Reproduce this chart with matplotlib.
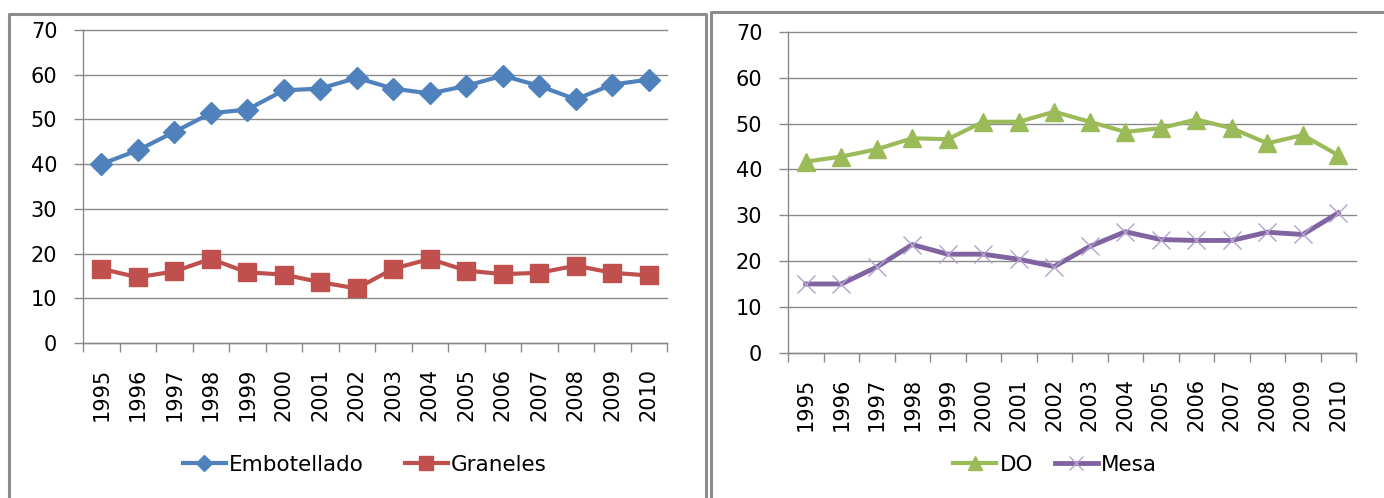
import matplotlib
matplotlib.use('Agg')
import matplotlib.pyplot as plt
from matplotlib.lines import Line2D
import numpy as np

plt.rcParams['font.family'] = ['DejaVu Sans']

years = ['1995', '1996', '1997', '1998', '1999', '2000', '2001', '2002',
         '2003', '2004', '2005', '2006', '2007', '2008', '2009', '2010']

embotellado = [40.0, 43.1, 47.2, 51.4, 52.2, 56.5, 56.9, 59.3,
               56.9, 55.8, 57.5, 59.8, 57.5, 54.5, 57.8, 58.9]
graneles = [16.6, 14.7, 16.0, 18.8, 15.8, 15.3, 13.6, 12.2,
            16.6, 18.8, 16.2, 15.4, 15.7, 17.3, 15.7, 15.1]

do_vals = [41.7, 42.8, 44.4, 46.8, 46.6, 50.4, 50.4, 52.6,
           50.4, 48.2, 49.0, 50.9, 49.0, 45.7, 47.5, 43.1]
mesa = [15.0, 15.0, 18.7, 23.6, 21.5, 21.5, 20.4, 18.8,
        23.2, 26.4, 24.7, 24.5, 24.5, 26.3, 25.8, 30.5]

W, H = 1384, 498
fig = plt.figure(figsize=(W / 100, H / 100), dpi=100)
fig.patch.set_facecolor('white')

grey = '#8a8a8a'


def setup_axis(ax):
    n = len(years)
    x = np.arange(n)
    ax.set_xlim(-0.5, n - 0.5)
    ax.set_ylim(0, 70)
    ax.set_yticks(range(0, 71, 10))
    ax.set_xticks(x)
    ax.set_xticklabels(years, rotation=90)
    ax.set_xticks(np.arange(-0.5, n, 1.0), minor=True)
    ax.tick_params(axis='x', which='major', length=0, pad=18, labelsize=15)
    ax.tick_params(axis='x', which='minor', length=6.5, width=1, color=grey)
    ax.tick_params(axis='y', length=6.5, width=1, color=grey, pad=12,
                   labelsize=15)
    ax.grid(axis='y', color=grey, lw=1.0, clip_on=False)
    ax.set_axisbelow(True)
    for s in ['top', 'right']:
        ax.spines[s].set_visible(False)
    for s in ['left', 'bottom']:
        ax.spines[s].set_color(grey)
        ax.spines[s].set_linewidth(1.0)
    return x


######## Left chart
ax1 = fig.add_axes([83 / W, 1 - 343 / H, (667 - 83) / W, (343 - 30) / H])
x = setup_axis(ax1)
ax1.plot(x, embotellado, color='#4F81BD', lw=3, marker='D', ms=11.5,
         label='Embotellado', clip_on=False)
ax1.plot(x, graneles, color='#C0504D', lw=3, marker='s', ms=13.5,
         label='Graneles', clip_on=False)
fig.legend(*ax1.get_legend_handles_labels(), loc='center',
           bbox_to_anchor=(365 / W, 1 - 465 / H), ncol=2, frameon=False,
           fontsize=15.5, handlelength=2.0, handletextpad=0.15,
           columnspacing=1.9, markerscale=0.75)

######## Right chart
ax2 = fig.add_axes([788 / W, 1 - 352.7 / H, (1356 - 788) / W, (352.7 - 32) / H])
x = setup_axis(ax2)
ax2.plot(x, do_vals, color='#9BBB59', lw=3, marker='^', ms=13,
         label='DO', clip_on=False)
ax2.plot(x, mesa, color='#8064A2', lw=3.5, marker='x', ms=13,
         mec='#b3a2cc', mew=1.0, label='Mesa', clip_on=False)
fig.legend(*ax2.get_legend_handles_labels(), loc='center',
           bbox_to_anchor=(1055 / W, 1 - 465 / H), ncol=2, frameon=False,
           fontsize=15.5, handlelength=2.0, handletextpad=0.15,
           columnspacing=1.0, markerscale=0.75)

######## Panel borders
def border(xs, ys):
    fig.add_artist(Line2D([v / W for v in xs], [1 - v / H for v in ys],
                          color='#8c8c8c', lw=2.2))

border([9, 9, 706, 706], [498, 14, 14, 498])
border([711, 711, 1384], [498, 12, 12])

plt.savefig('out.png', dpi=100)
